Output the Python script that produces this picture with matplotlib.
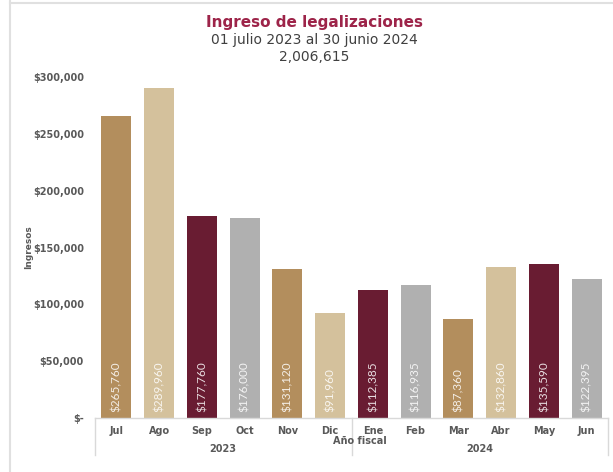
import matplotlib
matplotlib.use("Agg")
import matplotlib.pyplot as plt
from matplotlib.ticker import FuncFormatter

months = ["Jul", "Ago", "Sep", "Oct", "Nov", "Dic", "Ene", "Feb", "Mar", "Abr", "May", "Jun"]
values = [265760, 289960, 177760, 176000, 131120, 91960, 112385, 116935, 87360, 132860, 135590, 122395]
years = ["2023", "2024"]
year_counts = [6, 6]
palette = ["#B38E5D", "#D4C19C", "#691C32", "#B0B0B0"]
colors = [palette[i % 4] for i in range(len(values))]
title = "Ingreso de legalizaciones"
subtitle = "01 julio 2023 al 30 junio 2024"
total = "2,006,615"

W, H = 613, 472
fig = plt.figure(figsize=(W / 100, H / 100), dpi=100)
ax = fig.add_axes([95 / W, 1 - 418 / H, (608 - 95) / W, (418 - 77) / H])

x = list(range(len(values)))
ax.bar(x, values, width=0.70, color=colors, zorder=2)
ax.set_xlim(-0.5, len(values) - 0.5)
ax.set_ylim(0, 300000)
ax.set_yticks(range(0, 300001, 50000))
ax.yaxis.set_major_formatter(FuncFormatter(lambda v, p: "$-" if v == 0 else f"${v:,.0f}"))
for lbl in ax.get_yticklabels():
    lbl.set_fontweight("bold")
ax.tick_params(axis="y", length=0, pad=8, labelsize=7, labelcolor="#595959")
ax.tick_params(axis="x", length=0, labelbottom=False)
for s in ax.spines.values():
    s.set_visible(False)
ax.set_ylabel("Ingresos", fontsize=6.5, color="#595959", fontweight="bold")
ax.yaxis.set_label_coords((33 - 95) / 513, 0.5)

for xi, v in zip(x, values):
    ax.text(xi, 5000, f"${v:,.0f}", rotation=90, ha="center", va="bottom",
            color="white", fontsize=8.5, alpha=0.85, zorder=3, family="Lato")

# category box
trans = ax.get_xaxis_transform()
line_kw = dict(color="#D9D9D9", lw=1, transform=trans, clip_on=False)
ax.plot([-0.5, len(values) - 0.5], [0, 0], **line_kw)
bottom = -(455 - 418) / (418 - 77)
ax.plot([-0.5, -0.5], [0, bottom], **line_kw)
ax.plot([5.5, 5.5], [0, bottom], **line_kw)
ax.plot([len(values) - 0.5, len(values) - 0.5], [0, bottom], **line_kw)

my = -(431 - 418) / (418 - 77)
for xi, m in zip(x, months):
    ax.text(xi, my, m, transform=trans, ha="center", va="center", fontsize=7,
            fontweight="bold", color="#595959")
yy = -(449 - 418) / (418 - 77)
start = 0
for yr, n in zip(years, year_counts):
    ax.text(start + (n - 1) / 2, yy, yr, transform=trans, ha="center", va="center",
            fontsize=7, fontweight="bold", color="#595959")
    start += n
ax.text(5.7, -(441 - 418) / (418 - 77), "Año fiscal", transform=trans, ha="center",
        va="center", fontsize=7, fontweight="bold", color="#595959")

fig.text(314 / W, 1 - 22 / H, title, ha="center", va="center", fontsize=11,
         fontweight="bold", color="#9D2449")
fig.text(314 / W, 1 - 40 / H, subtitle, ha="center", va="center", fontsize=10,
         color="#404040")
fig.text(314 / W, 1 - 57 / H, total, ha="center", va="center", fontsize=10,
         color="#404040")

# frame lines
fig.add_artist(plt.Line2D([10 / W, 10 / W], [0, 1], color="#E0E0E0", lw=1.5, transform=fig.transFigure))
fig.add_artist(plt.Line2D([10 / W, 1], [1 - 3 / H, 1 - 3 / H], color="#E0E0E0", lw=1.5, transform=fig.transFigure))

fig.savefig("out.png", dpi=100)
